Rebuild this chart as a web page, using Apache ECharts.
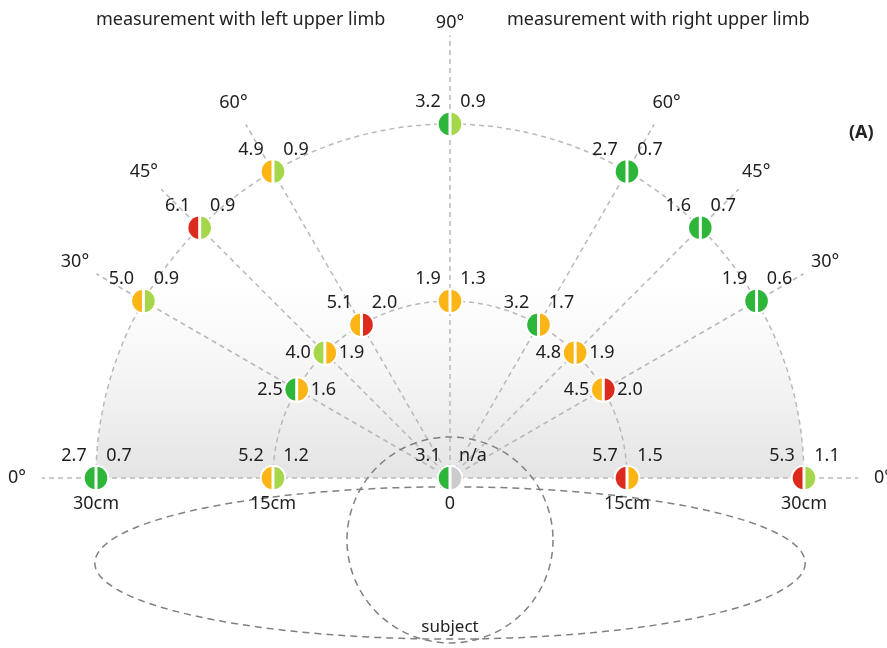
<!DOCTYPE html>
<html>
<head>
<meta charset="utf-8">
<script src="https://cdn.jsdelivr.net/npm/echarts@6/dist/echarts.min.js"></script>
<style>
  html, body { margin: 0; padding: 0; background: #fff; }
  #chart { width: 887px; height: 648px; }
</style>
</head>
<body>
<div id="chart"></div>
<script>
// Directions of the measurement rays (degrees, 180 = subject's left, 0 = right)
const ringAngles = [180, 150, 135, 120, 90, 60, 45, 30, 0];
const angleLabels = ['0°', '30°', '45°', '60°', '90°', '60°', '45°', '30°', '0°'];

// Distances of the two rings (cm)
const outerDistance = 30;
const innerDistance = 15;
const distanceTicks = [-30, -15, 0, 15, 30];
const distanceLabels = ['30cm', '15cm', '0', '15cm', '30cm'];

// Outer ring (30 cm): left-limb value, right-limb value and their rating
const outerLeft = [2.7, 5.0, 6.1, 4.9, 3.2, 2.7, 1.6, 1.9, 5.3];
const outerRight = [0.7, 0.9, 0.9, 0.9, 0.9, 0.7, 0.7, 0.6, 1.1];
const outerLeftRating = ['G', 'O', 'R', 'O', 'G', 'G', 'G', 'G', 'R'];
const outerRightRating = ['G', 'L', 'L', 'L', 'L', 'G', 'G', 'G', 'L'];

// Inner ring (15 cm)
const innerLeft = [5.2, 2.5, 4.0, 5.1, 1.9, 3.2, 4.8, 4.5, 5.7];
const innerRight = [1.2, 1.6, 1.9, 2.0, 1.3, 1.7, 1.9, 2.0, 1.5];
const innerLeftRating = ['O', 'G', 'L', 'O', 'O', 'G', 'O', 'O', 'R'];
const innerRightRating = ['L', 'O', 'O', 'R', 'O', 'O', 'O', 'R', 'O'];

// Position 0 (at the subject)
const centerLeft = [3.1];
const centerRight = [null];
const centerLeftRating = ['G'];
const centerRightRating = ['N'];

const ratingColors = { G: '#2eb63b', L: '#a6d74a', O: '#fbb515', R: '#dc2a1d', N: '#cbcbcb' };

// ---- layout (pixels) ----
const W = 887, H = 648;
const ORIGIN_PX = [450, 478];
const PX_PER_CM = 354 / 30;
const TEXT_FONT = '"Noto Sans", "Open Sans", sans-serif';
const NUM_FONT = '18px ' + TEXT_FONT;

const rad = d => d * Math.PI / 180;
const polar = (r, deg) => [r * Math.cos(rad(deg)), r * Math.sin(rad(deg))];
const fmt = v => (v === null ? 'n/a' : v.toFixed(1));

// Build the marker list
const points = [];
ringAngles.forEach((a, i) => {
  points.push({ pos: polar(outerDistance, a), angle: a, ring: 'outer',
    l: outerLeft[i], r: outerRight[i], lc: outerLeftRating[i], rc: outerRightRating[i] });
});
ringAngles.forEach((a, i) => {
  points.push({ pos: polar(innerDistance, a), angle: a, ring: 'inner',
    l: innerLeft[i], r: innerRight[i], lc: innerLeftRating[i], rc: innerRightRating[i] });
});
points.push({ pos: [0, 0], angle: 90, ring: 'center',
  l: centerLeft[0], r: centerRight[0], lc: centerLeftRating[0], rc: centerRightRating[0] });

const chart = echarts.init(document.getElementById('chart'), null, { renderer: 'canvas' });

const xMin = -ORIGIN_PX[0] / PX_PER_CM;
const xMax = (W - ORIGIN_PX[0]) / PX_PER_CM;
const yMax = ORIGIN_PX[1] / PX_PER_CM;
const yMin = -(H - ORIGIN_PX[1]) / PX_PER_CM;

const rayColor = '#b9b9b9';
const subjectColor = '#808080';

function renderFrame(params, api) {
  const o = api.coord([0, 0]);
  const unit = api.size([1, 1])[0];
  const R = outerDistance * unit;
  const r = innerDistance * unit;
  const rayLen = 34.6;
  const children = [];

  // shaded half-disc
  children.push({
    type: 'sector',
    shape: { cx: o[0], cy: o[1], r0: 0, r: R, startAngle: Math.PI, endAngle: 2 * Math.PI, clockwise: true },
    style: {
      fill: { type: 'linear', x: 0, y: 0, x2: 0, y2: 1, colorStops: [
        { offset: 0, color: 'rgba(228,228,228,0)' },
        { offset: 0.45, color: 'rgba(228,228,228,0)' },
        { offset: 0.7, color: 'rgba(228,228,228,0.35)' },
        { offset: 1, color: 'rgba(228,228,228,1)' }
      ] }
    },
    silent: true
  });

  // rays
  ringAngles.forEach(a => {
    const len = a === 90 ? 37.5 : rayLen;
    const e = api.coord(polar(len, a));
    children.push({
      type: 'line',
      shape: { x1: o[0], y1: o[1], x2: e[0], y2: e[1] },
      style: { stroke: rayColor, lineWidth: 1.5, lineDash: [5, 4] }
    });
  });

  // rings
  [R, r].forEach(rr => {
    children.push({
      type: 'arc',
      shape: { cx: o[0], cy: o[1], r: rr, startAngle: Math.PI, endAngle: 2 * Math.PI, clockwise: true },
      style: { stroke: rayColor, lineWidth: 1.5, lineDash: [5, 4], fill: null }
    });
  });

  // subject: head circle and body ellipse
  const head = api.coord([0, -5.25]);
  children.push({
    type: 'circle',
    shape: { cx: head[0], cy: head[1], r: 8.73 * unit },
    style: { stroke: subjectColor, lineWidth: 1.5, lineDash: [7, 5], fill: null }
  });
  const bodyC = api.coord([0, -7.2]);
  const rx = 30.1 * unit, ry = 6.45 * unit;
  const pts = [];
  for (let k = 0; k <= 180; k++) {
    const t = (k / 180) * 2 * Math.PI;
    pts.push([bodyC[0] + rx * Math.cos(t), bodyC[1] + ry * Math.sin(t)]);
  }
  children.push({
    type: 'polygon',
    shape: { points: pts },
    style: { stroke: subjectColor, lineWidth: 1.5, lineDash: [7, 5], fill: null }
  });
  children.push({
    type: 'text',
    style: { text: 'subject', x: head[0], y: api.coord([0, -12.6])[1], align: 'center', verticalAlign: 'middle',
      font: '17px ' + TEXT_FONT, fill: '#222' }
  });

  // direction labels
  ringAngles.forEach((a, i) => {
    const p = api.coord(polar(a === 90 ? 38.6 : 36.7, a));
    children.push({
      type: 'text',
      style: { text: angleLabels[i], x: p[0], y: p[1], align: 'center', verticalAlign: 'middle',
        font: NUM_FONT, fill: '#222' }
    });
  });

  // distance labels under the 0° line
  distanceTicks.forEach((d, i) => {
    const p = api.coord([d, 0]);
    children.push({
      type: 'text',
      style: { text: distanceLabels[i], x: p[0], y: p[1] + 26, align: 'center', verticalAlign: 'middle',
        font: NUM_FONT, fill: '#222' }
    });
  });

  return { type: 'group', children: children };
}

function renderMarker(params, api) {
  const p = points[params.dataIndex];
  const c = api.coord([api.value(0), api.value(1)]);
  const rr = 11.3;
  const side = p.ring === 'inner' && (p.angle === 150 || p.angle === 135 || p.angle === 45 || p.angle === 30);
  const children = [
    { type: 'circle', shape: { cx: c[0], cy: c[1], r: rr + 2 }, style: { fill: '#fff' } },
    { type: 'sector', shape: { cx: c[0], cy: c[1], r0: 0, r: rr, startAngle: Math.PI / 2, endAngle: 3 * Math.PI / 2, clockwise: true },
      style: { fill: ratingColors[p.lc] } },
    { type: 'sector', shape: { cx: c[0], cy: c[1], r0: 0, r: rr, startAngle: -Math.PI / 2, endAngle: Math.PI / 2, clockwise: true },
      style: { fill: ratingColors[p.rc] } },
    { type: 'rect', shape: { x: c[0] - 1.5, y: c[1] - rr - 1, width: 3, height: 2 * rr + 2 }, style: { fill: '#fff' } }
  ];
  if (side) {
    children.push({ type: 'text', style: { text: fmt(p.l), x: c[0] - 14, y: c[1], align: 'right', verticalAlign: 'middle', font: NUM_FONT, fill: '#1e1e1e' } });
    children.push({ type: 'text', style: { text: fmt(p.r), x: c[0] + 14, y: c[1], align: 'left', verticalAlign: 'middle', font: NUM_FONT, fill: '#1e1e1e' } });
  } else {
    children.push({ type: 'text', style: { text: fmt(p.l), x: c[0] - 22, y: c[1] - 22, align: 'center', verticalAlign: 'middle', font: NUM_FONT, fill: '#1e1e1e' } });
    children.push({ type: 'text', style: { text: fmt(p.r), x: c[0] + 23, y: c[1] - 22, align: 'center', verticalAlign: 'middle', font: NUM_FONT, fill: '#1e1e1e' } });
  }
  return { type: 'group', children: children };
}

const option = {
  backgroundColor: '#ffffff',
  animation: false,
  grid: { left: 0, right: 0, top: 0, bottom: 0 },
  xAxis: { type: 'value', min: xMin, max: xMax, show: false },
  yAxis: { type: 'value', min: yMin, max: yMax, show: false },
  graphic: [
    { type: 'text', left: 96, top: 11, style: { text: 'measurement with left upper limb', font: '18px ' + TEXT_FONT, fill: '#222' } },
    { type: 'text', left: 507, top: 11, style: { text: 'measurement with right upper limb', font: '18px ' + TEXT_FONT, fill: '#222' } },
    { type: 'text', left: 849, top: 124, style: { text: '(A)', font: 'bold 18px ' + TEXT_FONT, fill: '#222' } }
  ],
  series: [
    { type: 'custom', renderItem: renderFrame, data: [[0, 0]], silent: true, clip: false, z: 1 },
    { type: 'custom', renderItem: renderMarker, data: points.map(p => p.pos), silent: true, clip: false, z: 5 }
  ]
};

chart.setOption(option);
</script>
</body>
</html>
